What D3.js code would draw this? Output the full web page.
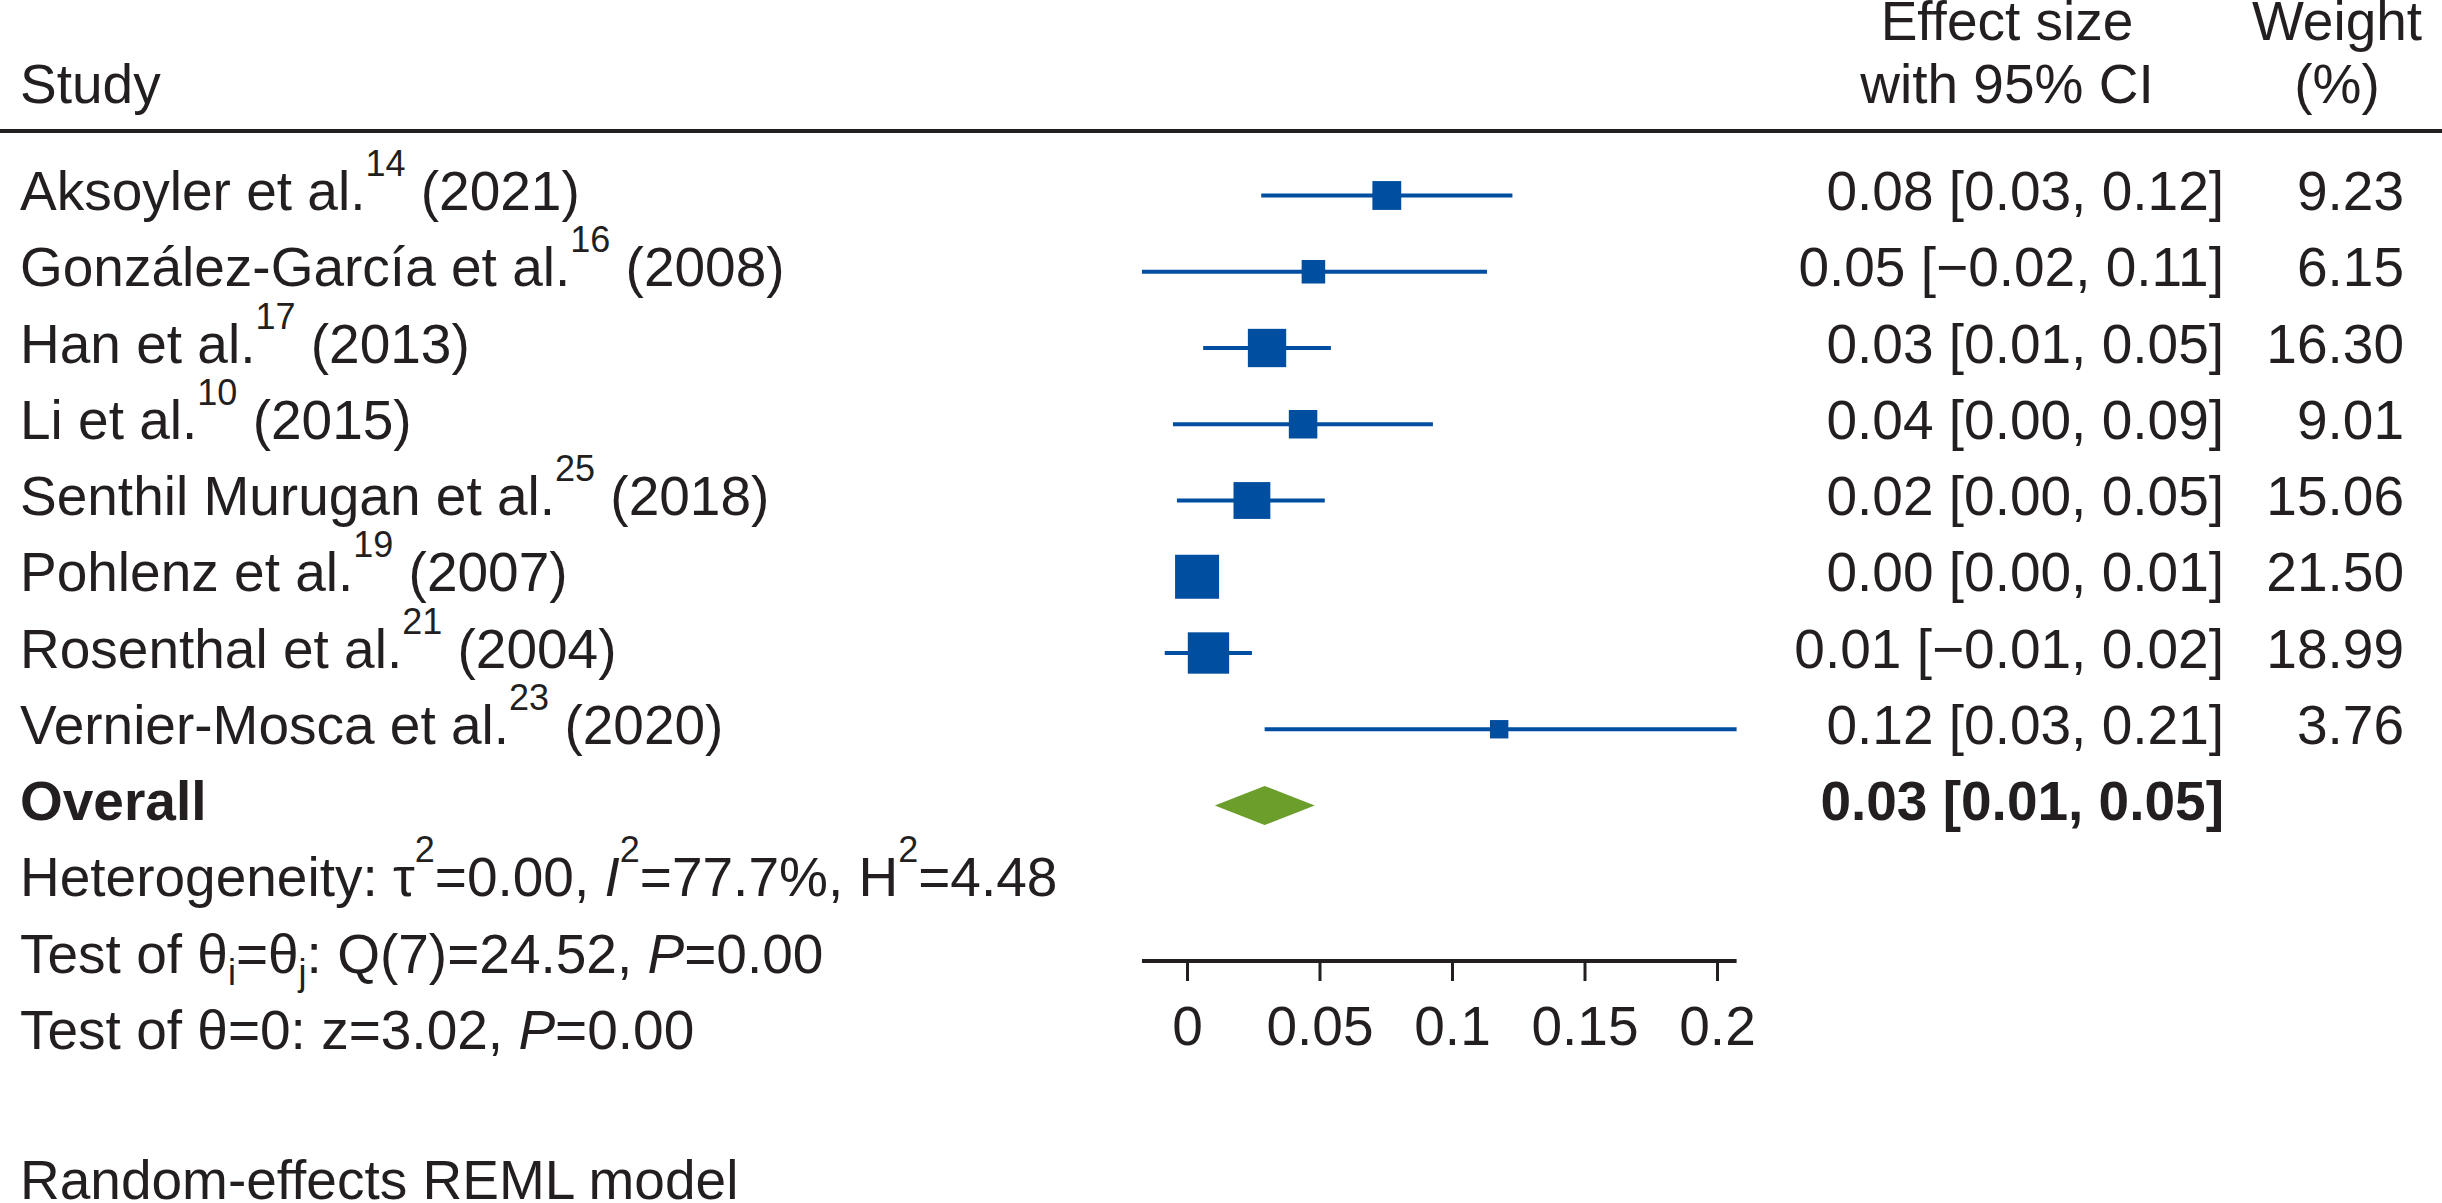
<!DOCTYPE html>
<html>
<head>
<meta charset="utf-8">
<script src="https://cdn.jsdelivr.net/npm/d3@7"></script>
<style>
  body { margin: 0; background: #fff; }
  text { font-family: "Liberation Sans", Arial, sans-serif; fill: #231f20; }
</style>
</head>
<body>
<script>
// data
var studies = ["Aksoyler et al.", "González-García et al.", "Han et al.", "Li et al.",
    "Senthil Murugan et al.", "Pohlenz et al.", "Rosenthal et al.", "Vernier-Mosca et al."];
var refs = ["14", "16", "17", "10", "25", "19", "21", "23"];
var years = ["2021", "2008", "2013", "2015", "2018", "2007", "2004", "2020"];

var effect = [0.0754, 0.0477, 0.0302, 0.0438, 0.0245, 0.0038, 0.0081, 0.1178];
var ciLow = [0.0280, -0.0170, 0.0061, -0.0053, -0.0038, 0.0000, -0.0084, 0.0293];
var ciHigh = [0.1228, 0.1132, 0.0543, 0.0928, 0.0520, 0.0100, 0.0245, 0.2074];
var weights = [9.23, 6.15, 16.30, 9.01, 15.06, 21.50, 18.99, 3.76];

var esLabels = ["0.08 [0.03, 0.12]", "0.05 [\u22120.02, 0.11]", "0.03 [0.01, 0.05]", "0.04 [0.00, 0.09]",
    "0.02 [0.00, 0.05]", "0.00 [0.00, 0.01]", "0.01 [\u22120.01, 0.02]", "0.12 [0.03, 0.21]"];
var weightLabels = ["9.23", "6.15", "16.30", "9.01", "15.06", "21.50", "18.99", "3.76"];

var overall = { est: 0.0293, lo: 0.0105, hi: 0.0482, label: "0.03 [0.01, 0.05]" };

var tickValues = [0, 0.05, 0.1, 0.15, 0.2];
var tickLabels = ["0", "0.05", "0.1", "0.15", "0.2"];

// stats lines: [text, style]
var hetLine = [["Heterogeneity: \u03c4", ""], ["2", "sup"], ["=0.00, ", ""], ["I", "it"], ["2", "sup"],
    ["=77.7%, H", ""], ["2", "sup"], ["=4.48", ""]];
var testLine1 = [["Test of \u03b8", ""], ["i", "sub"], ["=\u03b8", ""], ["j", "sub"], [": Q(7)=24.52, ", ""],
    ["P", "it"], ["=0.00", ""]];
var testLine2 = [["Test of \u03b8=0: z=3.02, ", ""], ["P", "it"], ["=0.00", ""]];
var modelNote = "Random-effects REML model";

var svgWidth = 2442, svgHeight = 1203;
var fontSize = 55, smallSize = 36;
var blue = "#004ea0", green = "#6b9e2a", ink = "#231f20";

var rowY = function (i) { return 195.5 + 76.25 * i; };
var textOff = 14.5;

var svg = d3.select("body").append("svg")
    .attr("width", svgWidth)
    .attr("height", svgHeight);

// scales
var x = d3.scaleLinear().domain([0, 0.2]).range([1187, 1717]);
var size = d3.scaleSqrt().domain([0, 21.5]).range([0, 44]);

// header
svg.append("text").attr("x", 20).attr("y", 103).attr("font-size", fontSize).text("Study");
svg.append("text").attr("x", 2007).attr("y", 40).attr("font-size", fontSize)
    .attr("text-anchor", "middle").text("Effect size");
svg.append("text").attr("x", 2007).attr("y", 103).attr("font-size", fontSize)
    .attr("text-anchor", "middle").text("with 95% CI");
svg.append("text").attr("x", 2337).attr("y", 40).attr("font-size", fontSize)
    .attr("text-anchor", "middle").text("Weight");
svg.append("text").attr("x", 2337).attr("y", 103).attr("font-size", fontSize)
    .attr("text-anchor", "middle").text("(%)");

svg.append("line")
    .attr("x1", 0).attr("x2", svgWidth)
    .attr("y1", 131).attr("y2", 131)
    .attr("stroke", ink).attr("stroke-width", 4);

// study labels with superscript refs
var labels = svg.selectAll(".studyLabel")
    .data(studies)
    .enter()
    .append("text")
    .attr("class", "studyLabel")
    .attr("x", 20)
    .attr("y", (d, i) => rowY(i) + textOff)
    .attr("font-size", fontSize);

labels.append("tspan").text(d => d);
labels.append("tspan").attr("font-size", smallSize).attr("dy", -34).text((d, i) => refs[i]);
labels.append("tspan").attr("dy", 34).text((d, i) => " (" + years[i] + ")");

// CI lines
svg.selectAll(".ci")
    .data(studies)
    .enter()
    .append("line")
    .attr("class", "ci")
    .attr("x1", (d, i) => x(ciLow[i]))
    .attr("x2", (d, i) => x(ciHigh[i]))
    .attr("y1", (d, i) => rowY(i))
    .attr("y2", (d, i) => rowY(i))
    .attr("stroke", blue)
    .attr("stroke-width", 4);

// weighted squares
svg.selectAll(".box")
    .data(studies)
    .enter()
    .append("rect")
    .attr("class", "box")
    .attr("x", (d, i) => x(effect[i]) - size(weights[i]) / 2)
    .attr("y", (d, i) => rowY(i) - size(weights[i]) / 2)
    .attr("width", (d, i) => size(weights[i]))
    .attr("height", (d, i) => size(weights[i]))
    .attr("fill", blue);

// effect size + weight columns
svg.selectAll(".esLabel")
    .data(esLabels)
    .enter()
    .append("text")
    .attr("class", "esLabel")
    .attr("x", 2224)
    .attr("y", (d, i) => rowY(i) + textOff)
    .attr("font-size", fontSize)
    .attr("text-anchor", "end")
    .text(d => d);

svg.selectAll(".wLabel")
    .data(weightLabels)
    .enter()
    .append("text")
    .attr("class", "wLabel")
    .attr("x", 2404)
    .attr("y", (d, i) => rowY(i) + textOff)
    .attr("font-size", fontSize)
    .attr("text-anchor", "end")
    .text(d => d);

// overall row
var oy = rowY(studies.length);
svg.append("text").attr("x", 20).attr("y", oy + textOff)
    .attr("font-size", fontSize).attr("font-weight", "bold").text("Overall");
svg.append("path")
    .attr("d", d3.line()([[x(overall.lo), oy], [x(overall.est), oy - 19.5],
        [x(overall.hi), oy], [x(overall.est), oy + 19.5]]) + "Z")
    .attr("fill", green);
svg.append("text").attr("x", 2224).attr("y", oy + textOff)
    .attr("font-size", fontSize).attr("font-weight", "bold")
    .attr("text-anchor", "end").text(overall.label);

// stats lines
function richText(parts, row) {
    var t = svg.append("text")
        .attr("x", 20)
        .attr("y", rowY(row) + textOff)
        .attr("font-size", fontSize);
    var shift = 0;
    parts.forEach(function (p) {
        var s = t.append("tspan").text(p[0]);
        var target = 0;
        if (p[1] === "sup") { s.attr("font-size", smallSize); target = -34; }
        if (p[1] === "sub") { s.attr("font-size", smallSize); target = 12; }
        if (p[1] === "it") s.attr("font-style", "italic");
        if (target !== shift) { s.attr("dy", target - shift); shift = target; }
    });
}
richText(hetLine, studies.length + 1);
richText(testLine1, studies.length + 2);
richText(testLine2, studies.length + 3);

svg.append("text").attr("x", 20).attr("y", rowY(studies.length + 5) + textOff - 2)
    .attr("font-size", fontSize).text(modelNote);

// x axis
var axisY = 961;
var axisGroup = svg.append("g")
    .attr("transform", `translate(0, ${axisY})`)
    .call(d3.axisBottom(x)
        .tickValues(tickValues)
        .tickSize(20)
        .tickFormat((d, i) => tickLabels[i]));

axisGroup.select(".domain").remove();
axisGroup.selectAll(".tick line").attr("stroke", ink).attr("stroke-width", 3);
axisGroup.selectAll(".tick text")
    .attr("y", 84)
    .attr("dy", 0)
    .attr("font-size", fontSize)
    .attr("font-family", "Liberation Sans, Arial, sans-serif")
    .attr("fill", ink);

axisGroup.append("line")
    .attr("x1", x(d3.min(ciLow)))
    .attr("x2", x(d3.max(ciHigh)))
    .attr("y1", 0).attr("y2", 0)
    .attr("stroke", ink)
    .attr("stroke-width", 4);
</script>
</body>
</html>
